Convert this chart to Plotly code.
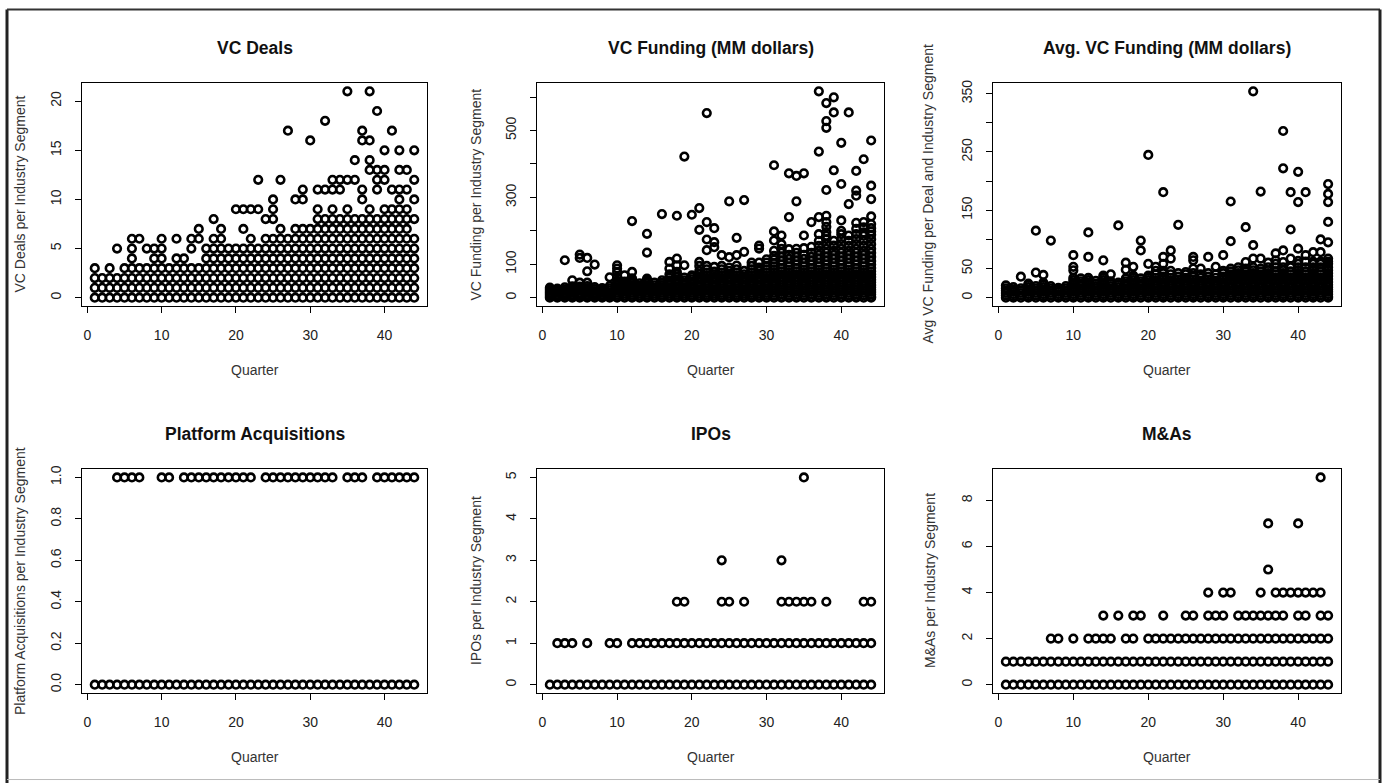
import plotly.graph_objects as go

# ---------------- data ----------------
quarters = list(range(1, 45))

vc_deals = [
    [0, 1, 2, 3], [0, 1, 2], [0, 1, 2, 3], [0, 1, 2, 5], [0, 1, 2, 3],
    [0, 1, 2, 3, 4, 5, 6], [0, 1, 2, 3, 6], [0, 1, 2, 3, 5], [0, 1, 2, 3, 4, 5], [0, 1, 2, 3, 4, 5, 6],
    [0, 1, 2, 3], [0, 1, 2, 3, 4, 6], [0, 1, 2, 3, 4], [0, 1, 2, 3, 5, 6], [0, 1, 2, 3, 6, 7],
    [0, 1, 2, 3, 4, 5], [0, 1, 2, 3, 4, 5, 6, 8], [0, 1, 2, 3, 4, 5, 6, 7], [0, 1, 2, 3, 4, 5], [0, 1, 2, 3, 4, 5, 9],
    [0, 1, 2, 3, 4, 5, 7, 9], [0, 1, 2, 3, 4, 5, 6, 9], [0, 1, 2, 3, 4, 5, 9, 12], [0, 1, 2, 3, 4, 5, 6, 8],
    [0, 1, 2, 3, 4, 5, 6, 8, 9, 10], [0, 1, 2, 3, 4, 5, 6, 7, 12], [0, 1, 2, 3, 4, 5, 6, 17],
    [0, 1, 2, 3, 4, 5, 6, 7, 10], [0, 1, 2, 3, 4, 5, 6, 7, 10, 11], [0, 1, 2, 3, 4, 5, 6, 7, 16],
    [0, 1, 2, 3, 4, 5, 6, 7, 8, 9, 11], [0, 1, 2, 3, 4, 5, 6, 7, 8, 11, 18],
    [0, 1, 2, 3, 4, 5, 6, 7, 8, 9, 11, 12], [0, 1, 2, 3, 4, 5, 6, 7, 8, 11, 12],
    [0, 1, 2, 3, 4, 5, 6, 7, 8, 9, 12, 21], [0, 1, 2, 3, 4, 5, 6, 7, 8, 12, 14],
    [0, 1, 2, 3, 4, 5, 6, 7, 8, 10, 11, 16, 17], [0, 1, 2, 3, 4, 5, 6, 7, 8, 9, 13, 14, 16, 21],
    [0, 1, 2, 3, 4, 5, 6, 7, 8, 11, 12, 13, 19], [0, 1, 2, 3, 4, 5, 6, 7, 8, 9, 12, 13, 15],
    [0, 1, 2, 3, 4, 5, 6, 7, 8, 9, 11, 17], [0, 1, 2, 3, 4, 5, 6, 7, 8, 9, 10, 11, 13, 15],
    [0, 1, 2, 3, 4, 5, 6, 7, 8, 9, 11, 13], [0, 1, 2, 3, 4, 5, 6, 8, 10, 12, 15],
]

vc_funding = [
    [0, 5, 10, 15, 20, 25, 30], [0, 4, 9, 14, 19, 23, 27], [0, 5, 10, 15, 20, 25, 31, 112],
    [0, 4, 9, 14, 19, 24, 29, 34, 52], [0, 5, 10, 15, 21, 27, 33, 45, 119, 129],
    [0, 4, 9, 14, 19, 24, 29, 35, 45, 79, 119], [0, 5, 10, 15, 20, 26, 32, 99], [0, 4, 9, 14, 19, 24, 29],
    [0, 5, 10, 16, 22, 28, 35, 61], [0, 3, 8, 14, 20, 26, 32, 38, 44, 50, 60, 77, 87, 97],
    [0, 6, 12, 18, 24, 30, 36, 42, 48, 67], [0, 3, 8, 14, 20, 26, 32, 38, 44, 51, 58, 77, 229],
    [0, 6, 12, 18, 24, 30, 36, 43], [0, 3, 8, 14, 20, 26, 32, 38, 44, 50, 57, 135, 191],
    [0, 6, 12, 18, 24, 30, 37, 45], [0, 3, 8, 14, 20, 26, 32, 38, 44, 52, 250],
    [0, 6, 12, 18, 24, 31, 38, 45, 52, 60, 70, 87, 107],
    [0, 3, 8, 14, 20, 27, 34, 41, 48, 55, 63, 70, 77, 97, 117, 245],
    [0, 6, 12, 18, 24, 31, 38, 45, 52, 60, 97, 422], [0, 3, 8, 14, 20, 27, 34, 41, 48, 55, 62, 67, 248],
    [0, 6, 12, 18, 25, 32, 39, 46, 54, 62, 70, 80, 95, 107, 203, 268],
    [0, 3, 8, 14, 21, 28, 35, 42, 50, 58, 66, 75, 85, 95, 142, 174, 226, 552],
    [0, 6, 12, 18, 25, 32, 39, 46, 54, 62, 70, 78, 92, 151, 166, 208],
    [0, 3, 8, 14, 21, 28, 35, 42, 50, 58, 66, 75, 85, 95, 127],
    [0, 6, 12, 18, 25, 32, 39, 46, 54, 62, 71, 80, 90, 121, 288],
    [0, 3, 8, 14, 21, 28, 35, 42, 50, 58, 66, 75, 85, 96, 127, 179],
    [0, 6, 12, 18, 25, 32, 39, 46, 54, 62, 70, 80, 137, 292],
    [0, 3, 8, 14, 21, 28, 35, 42, 50, 58, 66, 75, 85, 95, 105],
    [0, 6, 12, 18, 25, 32, 39, 46, 54, 62, 71, 80, 90, 105, 147, 156],
    [0, 3, 8, 14, 21, 28, 35, 42, 50, 58, 66, 75, 85, 95, 105, 115],
    [0, 7, 14, 21, 28, 35, 42, 50, 58, 66, 75, 84, 94, 104, 114, 125, 140, 171, 198, 396],
    [0, 3, 10, 17, 24, 31, 38, 46, 54, 62, 70, 79, 89, 99, 110, 122, 134, 146, 160, 186],
    [0, 7, 14, 21, 28, 35, 42, 50, 58, 66, 75, 84, 94, 104, 116, 128, 145, 241, 372],
    [0, 3, 10, 17, 24, 31, 38, 46, 54, 62, 70, 79, 89, 99, 110, 122, 134, 146, 288, 364],
    [0, 7, 14, 21, 28, 35, 42, 50, 58, 66, 75, 84, 94, 104, 116, 128, 148, 186, 372],
    [0, 3, 10, 17, 24, 31, 38, 46, 54, 62, 70, 79, 89, 99, 110, 122, 134, 152, 226],
    [0, 7, 14, 21, 28, 35, 42, 50, 58, 66, 75, 84, 94, 104, 116, 128, 140, 155, 170, 190, 241, 437, 617],
    [0, 3, 10, 17, 24, 31, 38, 46, 54, 62, 70, 79, 89, 99, 110, 122, 134, 146, 160, 175, 185, 196, 212, 226,
     245, 322, 508, 528, 582],
    [0, 7, 14, 21, 28, 35, 42, 50, 58, 66, 75, 84, 94, 104, 116, 128, 140, 156, 170, 381, 554, 599],
    [0, 3, 10, 17, 24, 31, 38, 46, 54, 62, 70, 79, 89, 99, 110, 122, 134, 146, 160, 175, 190, 200, 231, 340, 463],
    [0, 7, 14, 21, 28, 35, 42, 50, 58, 66, 75, 84, 94, 104, 116, 128, 140, 155, 170, 186, 280, 554],
    [0, 3, 10, 17, 24, 31, 38, 46, 54, 62, 70, 79, 89, 99, 110, 122, 134, 146, 160, 175, 190, 206, 224, 305,
     320, 379],
    [0, 7, 14, 21, 28, 35, 42, 50, 58, 66, 75, 84, 94, 104, 116, 128, 140, 155, 170, 185, 195, 210, 226, 414],
    [0, 3, 10, 17, 24, 31, 38, 46, 54, 62, 70, 79, 89, 99, 110, 122, 134, 146, 160, 175, 188, 198, 208, 220,
     243, 295, 335, 470],
]

avg_funding = [
    [0, 4, 8, 12, 16, 21], [0, 2, 6, 10, 14, 18], [0, 4, 8, 12, 16, 36], [0, 2, 6, 10, 14, 18, 22, 24],
    [0, 4, 8, 12, 16, 20, 43, 115], [0, 2, 6, 10, 14, 18, 22, 26, 39], [0, 4, 8, 12, 16, 20, 98],
    [0, 2, 6, 10, 14, 17], [0, 4, 8, 12, 16, 20], [0, 2, 6, 10, 14, 18, 22, 26, 30, 34, 47, 53, 73],
    [0, 4, 8, 12, 16, 20, 24, 28, 33], [0, 2, 6, 10, 14, 18, 22, 26, 30, 34, 70, 112],
    [0, 4, 8, 12, 16, 20, 24, 29], [0, 2, 6, 10, 14, 18, 22, 26, 30, 34, 38, 64],
    [0, 4, 8, 12, 16, 20, 24, 28, 40], [0, 2, 6, 10, 14, 18, 22, 26, 124],
    [0, 4, 8, 12, 16, 20, 24, 28, 33, 48, 60], [0, 2, 6, 10, 14, 18, 22, 26, 30, 34, 38, 53],
    [0, 4, 8, 12, 16, 20, 24, 28, 33, 81, 98], [0, 2, 6, 10, 14, 18, 22, 26, 30, 34, 38, 58, 245],
    [0, 4, 8, 12, 16, 20, 24, 29, 34, 40, 46, 53], [0, 2, 6, 10, 14, 18, 22, 26, 31, 36, 42, 46, 58, 70, 181],
    [0, 4, 8, 12, 16, 20, 24, 29, 34, 40, 46, 67, 81], [0, 2, 6, 10, 14, 18, 22, 26, 31, 36, 42, 125],
    [0, 4, 8, 12, 16, 20, 24, 29, 34, 40, 44], [0, 2, 6, 10, 14, 18, 22, 26, 31, 36, 42, 50, 64, 70],
    [0, 4, 8, 12, 16, 20, 24, 29, 34, 40, 50], [0, 2, 6, 10, 14, 18, 22, 26, 31, 36, 42, 70],
    [0, 4, 8, 12, 16, 20, 24, 29, 34, 40, 53], [0, 2, 6, 10, 14, 18, 22, 26, 31, 36, 42, 46, 73],
    [0, 4, 8, 12, 16, 20, 25, 30, 35, 40, 45, 50, 97, 165], [0, 2, 6, 10, 14, 18, 22, 27, 32, 37, 42, 47, 52],
    [0, 4, 8, 12, 16, 20, 25, 30, 35, 40, 45, 50, 61, 121],
    [0, 2, 6, 10, 14, 18, 22, 27, 32, 37, 42, 47, 52, 67, 90, 354],
    [0, 4, 8, 12, 16, 20, 25, 30, 35, 40, 45, 50, 67, 182],
    [0, 2, 6, 10, 14, 18, 22, 27, 32, 37, 42, 47, 52, 60],
    [0, 4, 8, 12, 16, 20, 25, 30, 35, 40, 45, 52, 58, 64, 76],
    [0, 2, 6, 10, 14, 18, 22, 27, 32, 37, 42, 47, 52, 61, 81, 222, 286],
    [0, 4, 8, 12, 16, 20, 25, 30, 35, 40, 45, 52, 67, 117, 181],
    [0, 2, 6, 10, 14, 18, 22, 27, 32, 37, 42, 47, 52, 58, 63, 84, 164, 216],
    [0, 4, 8, 12, 16, 20, 25, 30, 35, 40, 45, 52, 62, 73, 181],
    [0, 2, 6, 10, 14, 18, 22, 27, 32, 37, 42, 47, 52, 58, 62, 78],
    [0, 4, 8, 12, 16, 20, 25, 30, 35, 40, 45, 52, 58, 62, 78, 100],
    [0, 2, 6, 10, 14, 18, 22, 27, 32, 37, 42, 47, 52, 58, 62, 67, 95, 130, 164, 178, 195],
]

# quarters with one platform acquisition (all quarters also have zero)
platform_one_quarters = [4, 5, 6, 7, 10, 11, 13, 14, 15, 16, 17, 18, 19, 20, 21, 22,
                         24, 25, 26, 27, 28, 29, 30, 31, 32, 33, 35, 36, 37, 39, 40, 41, 42, 43, 44]

ipos = [
    [0], [0, 1], [0, 1], [0, 1], [0], [0, 1], [0], [0], [0, 1], [0, 1],
    [0], [0, 1], [0, 1], [0, 1], [0, 1], [0, 1], [0, 1], [0, 1, 2], [0, 1, 2], [0, 1],
    [0, 1], [0, 1], [0, 1], [0, 1, 2, 3], [0, 1, 2], [0, 1], [0, 1, 2], [0, 1], [0, 1], [0, 1],
    [0, 1], [0, 1, 2, 3], [0, 1, 2], [0, 1, 2], [0, 1, 2, 5], [0, 1, 2], [0, 1], [0, 1, 2], [0, 1], [0, 1],
    [0, 1], [0, 1], [0, 1, 2], [0, 1, 2],
]

mnas = [
    [0, 1], [0, 1], [0, 1], [0, 1], [0, 1], [0, 1], [0, 1, 2], [0, 1, 2], [0, 1], [0, 1, 2],
    [0, 1], [0, 1, 2], [0, 1, 2], [0, 1, 2, 3], [0, 1, 2], [0, 1, 3], [0, 1, 2], [0, 1, 2, 3], [0, 1, 3], [0, 1, 2],
    [0, 1, 2], [0, 1, 2, 3], [0, 1, 2], [0, 1, 2], [0, 1, 2, 3], [0, 1, 2, 3], [0, 1, 2], [0, 1, 2, 3, 4], [0, 1, 2, 3], [0, 1, 2, 3, 4],
    [0, 1, 2, 4], [0, 1, 2, 3], [0, 1, 2, 3], [0, 1, 2, 3], [0, 1, 2, 3, 4], [0, 1, 2, 3, 5, 7], [0, 1, 2, 3, 4], [0, 1, 2, 3, 4], [0, 1, 2, 4], [0, 1, 2, 3, 4, 7],
    [0, 1, 2, 3, 4], [0, 1, 2, 4], [0, 1, 2, 3, 4, 9], [0, 1, 2, 3],
]

titles = ["VC Deals", "VC Funding (MM dollars)", "Avg. VC Funding (MM dollars)",
          "Platform Acquisitions", "IPOs", "M&As"]
ylabels = ["VC Deals per Industry Segment", "VC Funding per Industry Segment",
           "Avg VC Funding per Deal and Industry Segment",
           "Platform Acquisitions per Industry Segment", "IPOs per Industry Segment",
           "M&As per Industry Segment"]
x_ticks = [0, 10, 20, 30, 40]

platform = [[0, 1] if q in platform_one_quarters else [0] for q in quarters]

# ---------------- layout geometry (pixels) ----------------
W, H = 1387, 783
DY = -0.5  # vertical correction for page offset
FONT = "Liberation Sans, Arial, Helvetica, sans-serif"
boxes = [  # left, right, top, bottom
    (82, 427, 80, 304), (537, 884, 80, 304), (993, 1341, 80, 304),
    (82, 427, 468, 693), (537, 884, 468, 693), (993, 1341, 468, 693),
]
yranges = [(-0.84, 21.84), (-24.7, 641.7), (-14.2, 368.2), (-0.04, 1.04), (-0.2, 5.2), (-0.36, 9.36)]
yticks = [
    ([0, 5, 10, 15, 20], ["0", "5", "10", "15", "20"]),
    ([0, 100, 200, 300, 400, 500, 600], ["0", "100", "", "300", "", "500", ""]),
    ([0, 50, 100, 150, 200, 250, 300, 350], ["0", "50", "", "150", "", "250", "", "350"]),
    ([0, 0.2, 0.4, 0.6, 0.8, 1.0], ["0.0", "0.2", "0.4", "0.6", "0.8", "1.0"]),
    ([0, 1, 2, 3, 4, 5], ["0", "1", "2", "3", "4", "5"]),
    ([0, 2, 4, 6, 8], ["0", "2", "4", "6", "8"]),
]
ylabel_x = [20, 476, 928, 20, 476, 930]
series = [vc_deals, vc_funding, avg_funding, platform, ipos, mnas]


def py(v):
    return 1 - (v + DY) / H


fig = go.Figure()
layout = dict(
    width=W, height=H, margin=dict(l=0, r=0, t=0, b=0),
    paper_bgcolor="white", plot_bgcolor="white", showlegend=False,
    font=dict(family=FONT, color="#222"),
)
annotations = []
for i, (vals, box) in enumerate(zip(series, boxes)):
    n = i + 1
    xs, ys = [], []
    for q, lst in zip(quarters, vals):
        for v in lst:
            xs.append(q)
            ys.append(v)
    fig.add_trace(go.Scatter(
        x=xs, y=ys, mode="markers",
        marker=dict(symbol="circle-open", size=7.6, color="black", line=dict(width=2.6, color="black")),
        xaxis=f"x{n}", yaxis=f"y{n}", hoverinfo="x+y",
    ))
    l, r, t, b = box
    ax = dict(
        domain=[l / W, r / W], range=[-0.72, 45.72], anchor=f"y{n}",
        showgrid=False, zeroline=False, showline=True, mirror=True,
        linecolor="black", linewidth=1.2,
        ticks="outside", ticklen=6, tickcolor="black", tickwidth=1,
        tickvals=x_ticks, ticktext=[str(v) for v in x_ticks],
        tickfont=dict(size=14, color="#222", family=FONT), ticklabelstandoff=10,
    )
    tv, tt = yticks[i]
    ay = dict(
        domain=[py(b), py(t)], range=list(yranges[i]), anchor=f"x{n}",
        showgrid=False, zeroline=False, showline=True, mirror=True,
        linecolor="black", linewidth=1.2,
        ticks="outside", ticklen=6, tickcolor="black", tickwidth=1,
        tickvals=tv, ticktext=tt, tickangle=-90,
        tickfont=dict(size=14, color="#222", family=FONT), ticklabelstandoff=8,
    )
    layout["xaxis" if n == 1 else f"xaxis{n}"] = ax
    layout["yaxis" if n == 1 else f"yaxis{n}"] = ay
    cx = (l + r) / 2
    ty = 45 if i < 3 else 433
    qy = 368 if i < 3 else 757
    annotations.append(dict(text=f"<b>{titles[i]}</b>", x=cx / W, y=py(ty), xref="paper", yref="paper",
                            showarrow=False, xanchor="center", yanchor="middle",
                            font=dict(size=17.5, color="#111", family=FONT)))
    annotations.append(dict(text="Quarter", x=cx / W, y=py(qy), xref="paper", yref="paper",
                            showarrow=False, xanchor="center", yanchor="middle",
                            font=dict(size=14, color="#333", family=FONT)))
    annotations.append(dict(text=ylabels[i], x=ylabel_x[i] / W, y=py((t + b) / 2), xref="paper", yref="paper",
                            showarrow=False, xanchor="center", yanchor="middle", textangle=-90,
                            font=dict(size=14, color="#333", family=FONT)))
layout["annotations"] = annotations
layout["shapes"] = [
    dict(type="line", xref="paper", yref="paper", x0=7 / W, x1=7 / W, y0=py(6), y1=py(784),
         line=dict(color="#222", width=3)),
    dict(type="line", xref="paper", yref="paper", x0=7 / W, x1=1380 / W, y0=py(6), y1=py(6),
         line=dict(color="#333", width=2)),
    dict(type="line", xref="paper", yref="paper", x0=1380 / W, x1=1380 / W, y0=py(6), y1=py(784),
         line=dict(color="#222", width=3)),
    dict(type="line", xref="paper", yref="paper", x0=7 / W, x1=1380 / W, y0=py(780), y1=py(780),
         line=dict(color="#bbb", width=1)),
]
fig.update_layout(**layout)
fig.write_html("out.html", config={"displayModeBar": False},
               post_script="document.body.style.margin='0px';document.body.style.overflow='hidden';")
